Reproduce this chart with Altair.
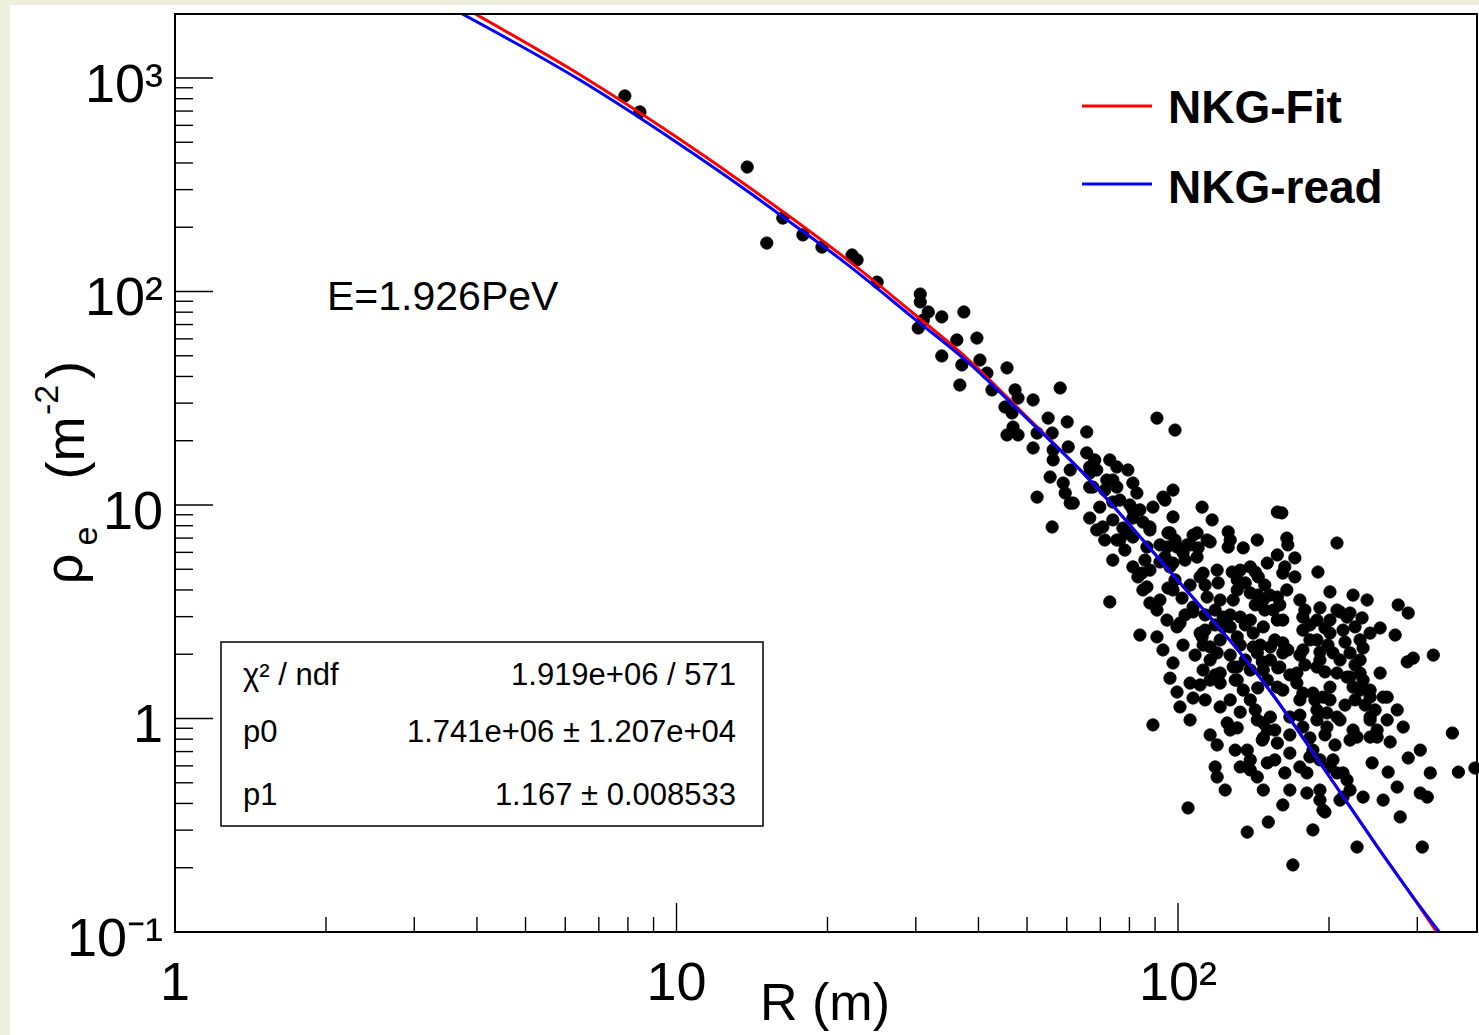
import altair as alt
import pandas as pd

# ---------------- data (values in log10 units) ----------------
# upper / sparse part of the scatter
UPPER_LOG_R = [
    0.897, 0.927, 1.141, 1.180, 1.212, 1.252, 1.290, 1.350, 1.360, 1.400,
    1.486, 1.486, 1.502, 1.529, 1.573, 1.482, 1.492, 1.559, 1.599, 1.529,
    1.569, 1.605, 1.619, 1.565, 1.659, 1.629, 1.675, 1.681, 1.655, 1.669,
    1.711, 1.765, 1.671, 1.659, 1.681, 1.719, 1.741, 1.779, 1.818, 1.711,
    1.749, 1.751, 1.781, 1.818, 1.751, 1.745, 1.785, 1.771, 1.775, 1.791,
    1.719, 1.749, 1.824, 1.838, 1.864, 1.878, 1.870, 1.830, 1.844, 1.824,
    1.838, 1.870, 1.884, 1.870, 1.910, 1.910, 1.918, 1.910, 1.950, 1.944,
    1.970, 1.990, 1.990, 1.984, 1.958, 1.994, 1.898, 1.938, 1.978, 1.990]
UPPER_LOG_RHO = [
    2.916, 2.841, 2.583, 2.227, 2.344, 2.265, 2.208, 2.171, 2.148, 2.044,
    1.988, 1.951, 1.904, 1.881, 1.904, 1.829, 1.866, 1.773, 1.782, 1.698,
    1.656, 1.679, 1.618, 1.562, 1.642, 1.539, 1.539, 1.501, 1.459, 1.431,
    1.492, 1.548, 1.365, 1.328, 1.328, 1.337, 1.407, 1.389, 1.342, 1.267,
    1.337, 1.258, 1.272, 1.244, 1.211, 1.131, 1.164, 1.103, 1.056, 1.009,
    1.037, 0.897, 1.150, 1.164, 1.211, 1.178, 1.117, 1.084, 0.990, 0.939,
    0.883, 0.930, 0.836, 0.742, 0.710, 1.103, 1.056, 0.977, 0.990, 0.897,
    1.037, 1.070, 0.944, 0.869, 1.407, 1.351, 0.869, 0.803, 0.803, 0.728]

# middle of the dense cluster
MID_LOG_R = [
    1.785, 1.824, 1.878, 1.904, 2.048, 2.068, 2.207, 1.910, 1.878, 1.910,
    1.944, 1.980, 2.030, 2.064, 2.100, 2.100, 1.998, 2.010, 2.038, 2.130,
    2.158, 2.217, 2.219, 2.317, 2.198, 2.233, 1.928, 1.964, 1.984, 2.050,
    2.080, 2.108, 2.144, 2.160, 2.209, 2.233, 2.279, 1.864, 1.930, 1.944,
    1.958, 1.980, 2.008, 2.030, 2.058, 2.084, 2.118, 2.144, 2.170, 2.217,
    2.243, 2.303, 2.349, 2.377, 2.439, 2.459, 2.317, 2.343, 2.249, 2.277,
    2.303, 2.367, 1.924, 1.958, 1.978, 1.998, 1.970, 1.990, 1.984, 2.048,
    2.064, 2.090, 2.118, 2.144, 2.170, 2.198, 2.150, 2.184, 2.209, 2.249,
    2.277, 2.303, 2.329, 2.383, 2.403, 2.433, 2.369, 2.343, 2.457, 2.469,
    2.509, 2.050, 2.084, 2.118, 2.170, 2.203, 2.237, 2.277, 2.317, 2.363,
    2.403]
MID_LOG_RHO = [
    1.009, 1.084, 1.084, 1.000, 0.990, 0.930, 0.963, 0.939, 0.836, 0.850,
    0.883, 0.869, 0.859, 0.827, 0.874, 0.803, 0.803, 0.775, 0.756, 0.799,
    0.836, 0.845, 0.813, 0.822, 0.766, 0.752, 0.681, 0.733, 0.710, 0.681,
    0.635, 0.686, 0.710, 0.663, 0.681, 0.663, 0.686, 0.546, 0.602, 0.541,
    0.508, 0.611, 0.564, 0.522, 0.569, 0.555, 0.602, 0.588, 0.555, 0.602,
    0.555, 0.593, 0.578, 0.555, 0.532, 0.494, 0.508, 0.494, 0.475, 0.461,
    0.461, 0.471, 0.391, 0.382, 0.461, 0.429, 0.321, 0.260, 0.189, 0.382,
    0.335, 0.429, 0.382, 0.461, 0.429, 0.461, 0.335, 0.335, 0.354, 0.414,
    0.368, 0.400, 0.414, 0.400, 0.424, 0.391, 0.330, 0.307, 0.265, 0.283,
    0.297, 0.227, 0.213, 0.241, 0.227, 0.241, 0.213, 0.241, 0.213, 0.213,
    0.213]

# lower part of the cluster
LOW_LOG_R = [
    2.010, 2.050, 2.078, 2.024, 1.998, 2.064, 2.084, 2.110, 2.118, 2.130,
    2.158, 2.184, 2.209, 2.249, 2.283, 2.309, 2.363, 2.178, 2.209, 2.237,
    2.269, 2.303, 2.337, 2.369, 2.383, 2.409, 2.437, 2.449, 2.483, 2.459,
    2.547, 2.004, 2.024, 1.950, 2.064, 2.078, 2.084, 2.098, 2.124, 2.118,
    2.144, 2.170, 2.170, 2.198, 2.223, 2.249, 2.277, 2.297, 2.317, 2.349,
    2.383, 2.397, 2.423, 2.343, 2.138, 2.223, 2.243, 2.263, 2.309, 2.329,
    2.343, 2.074, 2.078, 2.124, 2.158, 2.178, 2.170, 2.213, 2.257, 2.257,
    2.283, 2.283, 2.293, 2.209, 2.180, 2.138, 2.269, 2.229, 2.020, 2.329,
    2.369, 2.409, 2.387, 2.419, 2.437, 2.483, 2.497, 2.503, 2.559, 2.592,
    2.443, 2.357, 2.487]
LOW_LOG_RHO = [
    0.344, 0.344, 0.307, 0.166, 0.124, 0.180, 0.166, 0.241, 0.180, 0.133,
    0.307, 0.274, 0.307, 0.321, 0.274, 0.307, 0.274, 0.180, 0.133, 0.166,
    0.119, 0.147, 0.194, 0.180, 0.100, 0.100, 0.040, -0.040, -0.148, -0.185,
    -0.068, 0.054, -0.007, -0.030, -0.077, -0.124, 0.054, -0.021, 0.030, -0.044,
    0.087, -0.021, -0.091, -0.115, 0.007, -0.040, -0.007, -0.040, 0.007, -0.054,
    -0.007, -0.087, -0.110, -0.101, -0.148, -0.162, -0.227, -0.180, -0.194, -0.255,
    -0.335, -0.227, -0.274, -0.227, -0.274, -0.208, -0.335, -0.255, -0.255, -0.349,
    -0.335, -0.382, -0.438, -0.405, -0.485, -0.532, -0.522, -0.686, -0.419, -0.368,
    -0.368, -0.382, -0.208, -0.251, -0.321, -0.349, -0.368, -0.255, -0.251, -0.232,
    -0.461, -0.602, -0.602]

# extra points filling the cluster
FILL_LOG_R = [
    2.349, 2.383, 2.417, 2.383, 2.417, 2.397, 2.383, 2.289, 2.323, 2.303,
    2.317, 2.337, 2.269, 2.283, 2.357, 2.323, 2.297, 2.289, 2.249, 2.277,
    2.184, 2.004, 2.044, 2.044, 2.030, 2.104, 2.158, 2.178, 2.168, 2.144,
    2.104, 2.150, 2.198, 1.824, 1.858, 1.974, 1.870, 1.850, 1.890, 1.930,
    2.038, 2.104, 2.058, 1.920, 2.018, 2.044, 2.078, 2.118, 2.178, 2.198,
    1.938, 1.964, 1.990, 2.030, 2.110, 2.090, 2.124, 2.190, 2.213, 2.198,
    2.337, 2.209]
FILL_LOG_RHO = [
    0.147, 0.133, 0.100, 0.007, -0.007, -0.054, -0.087, -0.429, -0.382, -0.227,
    -0.255, -0.288, -0.148, -0.194, -0.087, -0.007, 0.026, 0.100, 0.119, 0.040,
    0.007, 0.447, 0.400, 0.157, 0.096, -0.054, -0.007, -0.054, -0.101, -0.241,
    0.429, 0.400, 0.147, 1.178, 1.117, 1.023, 1.014, 0.897, 0.892, 0.920,
    0.869, 0.836, 0.836, 0.663, 0.813, 0.663, 0.695, 0.649, 0.728, 0.967,
    0.616, 0.555, 0.602, 0.499, 0.555, 0.475, 0.475, 0.508, 0.710, 0.569,
    0.475, 0.461]

# solid core of the cluster (overlapping markers)
CORE_LOG_R = [
    1.964, 1.994, 2.024, 1.974, 2.014, 2.040,
    2.124, 2.154, 2.173, 2.134, 2.159,
    2.183, 2.203, 2.173, 2.154,
    2.253, 2.283, 2.323, 2.263, 2.293, 2.353, 2.263, 2.299, 2.333, 2.363,
    2.243, 2.283, 2.323, 2.353, 2.253, 2.293, 2.343,
    2.054, 2.074, 2.104, 2.134, 2.054, 2.084, 2.124, 2.034, 2.064, 2.104,
    2.134, 2.074, 2.114, 2.144,
    2.164, 2.193, 2.219, 2.168, 2.199, 2.223, 2.159,
    2.243, 2.273, 2.303, 2.333, 2.243, 2.293, 2.263, 2.313,
    2.353, 2.373, 2.393, 2.363,
    1.834, 1.854, 1.884, 1.900, 1.924, 1.854, 1.894, 1.934, 1.944,
    1.994, 2.024, 2.054, 2.074, 2.014,
    2.054, 2.104, 2.154, 2.193, 2.223, 2.114, 2.144, 2.193, 2.223, 2.094]
CORE_LOG_RHO = [
    0.813, 0.836, 0.813, 0.756, 0.742, 0.799,
    0.695, 0.686, 0.625, 0.635, 0.578,
    0.578, 0.532, 0.508, 0.532,
    0.508, 0.518, 0.499, 0.438, 0.424, 0.429, 0.368, 0.344, 0.358, 0.368,
    0.297, 0.311, 0.274, 0.251, 0.251, 0.218, 0.194,
    0.485, 0.438, 0.485, 0.438, 0.414, 0.368, 0.344, 0.297, 0.274, 0.297,
    0.274, 0.204, 0.180, 0.227,
    0.344, 0.368, 0.321, 0.265, 0.237, 0.204, 0.143,
    0.087, 0.087, 0.087, 0.063, 0.016, -0.077, -0.091, -0.124,
    0.087, 0.063, 0.040, 0.133,
    1.211, 1.070, 1.023, 1.164, 0.977, 0.836, 0.789, 0.742, 0.695,
    0.649, 0.625, 0.625, 0.508, 0.485,
    0.087, 0.087, 0.040, -0.054, -0.077, -0.148, -0.194, -0.194, -0.335, -0.335]

# fitted curves (R in m, rho in m^-2)
FIT_R = [3.97, 6.43, 10, 14.2, 17.1, 21.9, 29.6, 37.9, 50, 63.8, 100, 121, 150, 200, 250, 300, 328]
FIT_RHO = [1995, 1033, 529, 299, 218, 141, 79.3, 48.8, 25.8, 14.6, 4.42, 2.65, 1.42, 0.538, 0.25, 0.136, 0.1]
READ_R = [3.74, 6.43, 10, 14.2, 17.1, 21.9, 29.6, 37.9, 50, 63.8, 100, 121, 150, 200, 250, 300, 332]
READ_RHO = [1995, 975, 500, 283, 206, 134, 75.5, 47.2, 25.4, 14.6, 4.42, 2.65, 1.42, 0.538, 0.25, 0.137, 0.1]

LEGEND_NAMES = ["NKG-Fit", "NKG-read"]
LEGEND_COLORS = ["#ff0000", "#0000ff"]
ANNOTATION = "E=1.926PeV"
STAT_NAMES = ["χ² / ndf", "p0", "p1"]
STAT_VALUES = ["1.919e+06 / 571", "1.741e+06 ± 1.207e+04", "1.167 ± 0.008533"]

X_DOMAIN = [1, 394.6]
Y_DOMAIN = [0.1, 1994]
X_MAJOR = [10, 100]
X_MINOR = [2, 3, 4, 5, 6, 7, 8, 9, 20, 30, 40, 50, 60, 70, 80, 90, 200, 300]
Y_MAJOR = [1, 10, 100, 1000]
Y_MINOR = [0.2, 0.3, 0.4, 0.5, 0.6, 0.7, 0.8, 0.9, 2, 3, 4, 5, 6, 7, 8, 9,
           20, 30, 40, 50, 60, 70, 80, 90, 200, 300, 400, 500, 600, 700, 800, 900]
X_LABEL_VALUES = [1, 10, 100]
X_LABEL_TEXT = ["1", "10", "10²"]
Y_LABEL_VALUES = [0.1, 1, 10, 100, 1000]
Y_LABEL_TEXT = ["10⁻¹", "1", "10", "10²", "10³"]
X_TITLE = "R (m)"
Y_TITLE_PARTS = ["ρ", "e", "(m", "-2", ")"]

# ---------------- chart ----------------
W, H = 1302, 918
FONT = "Liberation Sans"

log_r = UPPER_LOG_R + MID_LOG_R + LOW_LOG_R + FILL_LOG_R + CORE_LOG_R
log_rho = UPPER_LOG_RHO + MID_LOG_RHO + LOW_LOG_RHO + FILL_LOG_RHO + CORE_LOG_RHO
assert len(log_r) == len(log_rho)
points = pd.DataFrame({"lr": log_r, "lrho": log_rho})

xs = alt.Scale(type="log", domain=X_DOMAIN)
ys = alt.Scale(type="log", domain=Y_DOMAIN)


def XQ(f):
    return alt.X(f, type="quantitative", scale=xs, axis=None)


def YQ(f):
    return alt.Y(f, type="quantitative", scale=ys, axis=None)


one = pd.DataFrame({"k": [0]})
layers = []

# white page area (slide margin stays tinted)
layers.append(alt.Chart(one).mark_rect(color="white").encode(
    x=alt.value(-165), x2=alt.value(W + 2), y=alt.value(-9), y2=alt.value(H + 103)))


# ticks (inside the frame, ROOT style)
def xticks(vals, length):
    return alt.Chart(pd.DataFrame({"v": vals})).mark_rule(color="black", strokeWidth=1.4).encode(
        x=XQ("v"), y=alt.value(H), y2=alt.value(H - length))


def yticks(vals, length):
    return alt.Chart(pd.DataFrame({"v": vals})).mark_rule(color="black", strokeWidth=1.4).encode(
        y=YQ("v"), x=alt.value(0), x2=alt.value(length))


layers += [xticks(X_MINOR, 15), xticks(X_MAJOR, 29), yticks(Y_MINOR, 18), yticks(Y_MAJOR, 38)]

# scatter
layers.append(alt.Chart(points).transform_calculate(
    R="pow(10, datum.lr)", rho="pow(10, datum.lrho)"
).mark_circle(size=150, color="black", opacity=1, stroke="black", strokeWidth=1).encode(
    x=XQ("R"), y=YQ("rho")))

# curves
layers.append(alt.Chart(pd.DataFrame({"R": FIT_R, "rho": FIT_RHO})).mark_line(
    color=LEGEND_COLORS[0], strokeWidth=3, clip=True, interpolate="monotone").encode(x=XQ("R"), y=YQ("rho")))
layers.append(alt.Chart(pd.DataFrame({"R": READ_R, "rho": READ_RHO})).mark_line(
    color=LEGEND_COLORS[1], strokeWidth=3, clip=True, interpolate="monotone").encode(x=XQ("R"), y=YQ("rho")))

# frame
layers.append(alt.Chart(one).mark_rect(filled=False, stroke="black", strokeWidth=2).encode(
    x=alt.value(0), x2=alt.value(W), y=alt.value(0), y2=alt.value(H)))

# tick labels
layers.append(alt.Chart(pd.DataFrame({"v": X_LABEL_VALUES, "t": X_LABEL_TEXT})).mark_text(
    font=FONT, fontSize=54, align="center", baseline="alphabetic", color="black").encode(
    x=XQ("v"), y=alt.value(986), text="t:N"))
layers.append(alt.Chart(pd.DataFrame({"v": Y_LABEL_VALUES, "t": Y_LABEL_TEXT})).mark_text(
    font=FONT, fontSize=54, align="right", baseline="alphabetic", dy=24, color="black").encode(
    y=YQ("v"), x=alt.value(-12), text="t:N"))

# axis titles
layers.append(alt.Chart(one).mark_text(font=FONT, fontSize=52, align="center",
                                      baseline="alphabetic", color="black").encode(
    x=alt.value(650), y=alt.value(1006), text=alt.value(X_TITLE)))
ytitle_pos = [(-109, 555, 54), (-88, 522, 34), (-107, 434, 54), (-127, 386, 34), (-107, 356, 54)]
for part, (px, py, fs) in zip(Y_TITLE_PARTS, ytitle_pos):
    layers.append(alt.Chart(one).mark_text(font=FONT, fontSize=fs, align="center", baseline="middle",
                                          angle=270, color="black").encode(
        x=alt.value(px), y=alt.value(py), text=alt.value(part)))

# energy annotation
layers.append(alt.Chart(one).mark_text(font=FONT, fontSize=41, align="left", baseline="alphabetic",
                                      color="black").encode(
    x=alt.value(152), y=alt.value(296), text=alt.value(ANNOTATION)))

# legend
for i, (name, col) in enumerate(zip(LEGEND_NAMES, LEGEND_COLORS)):
    yy = 92 + 78 * i
    layers.append(alt.Chart(one).mark_rule(color=col, strokeWidth=3).encode(
        x=alt.value(907), x2=alt.value(977), y=alt.value(yy)))
    layers.append(alt.Chart(one).mark_text(font=FONT, fontSize=46, fontWeight="bold", align="left",
                                          baseline="alphabetic", color="black").encode(
        x=alt.value(993), y=alt.value(109 + 80 * i), text=alt.value(name)))

# stats box
layers.append(alt.Chart(one).mark_rect(fill="white", stroke="black", strokeWidth=1.5).encode(
    x=alt.value(46), x2=alt.value(588), y=alt.value(628), y2=alt.value(812)))
stat_y = [671, 728, 791]
for name, val, yy in zip(STAT_NAMES, STAT_VALUES, stat_y):
    layers.append(alt.Chart(one).mark_text(font=FONT, fontSize=31, align="left", baseline="alphabetic",
                                          color="black").encode(
        x=alt.value(68), y=alt.value(yy), text=alt.value(name)))
    layers.append(alt.Chart(one).mark_text(font=FONT, fontSize=31, align="right", baseline="alphabetic",
                                          color="black").encode(
        x=alt.value(561), y=alt.value(yy), text=alt.value(val)))

chart = alt.layer(*layers).properties(
    width=W, height=H,
    padding={"left": 175, "top": 14, "right": 2, "bottom": 103},
    autosize=alt.AutoSizeParams(type="none"),
    background="#eef0dd",
).configure_view(stroke=None)

chart.save("out.html", embed_options={"renderer": "svg", "actions": False})
